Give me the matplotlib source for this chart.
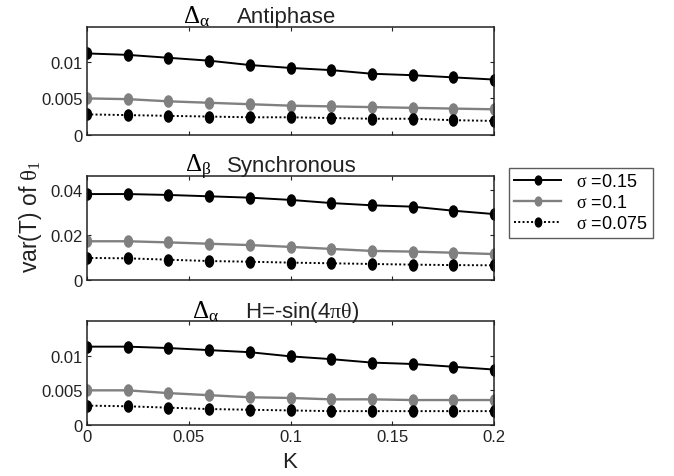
import matplotlib.pyplot as plt
from matplotlib.path import Path
from matplotlib.transforms import Affine2D

plt.rcParams['font.family'] = ['Liberation Sans', 'DejaVu Sans']
# upright serif greek, like a symbol font
plt.rcParams['mathtext.fontset'] = 'custom'
plt.rcParams['mathtext.rm'] = 'Liberation Serif'
plt.rcParams['mathtext.it'] = 'Liberation Serif'
plt.rcParams['mathtext.bf'] = 'Liberation Serif:bold'

K = [0, 0.02, 0.04, 0.06, 0.08, 0.1, 0.12, 0.14, 0.16, 0.18, 0.2]

# Delta_alpha, antiphase
anti_015 = [0.0112, 0.0110, 0.0106, 0.0102, 0.0096, 0.0092, 0.0089, 0.0084, 0.0082, 0.0079, 0.0076]
anti_010 = [0.0050, 0.0049, 0.0046, 0.0044, 0.0042, 0.0040, 0.0039, 0.0038, 0.0037, 0.0036, 0.0035]
anti_0075 = [0.0028, 0.0027, 0.0026, 0.0025, 0.0024, 0.0024, 0.0023, 0.0022, 0.0022, 0.0020, 0.0019]

# Delta_beta, synchronous
sync_015 = [0.0381, 0.0381, 0.0377, 0.0371, 0.0365, 0.0355, 0.0341, 0.0331, 0.0325, 0.0307, 0.0292]
sync_010 = [0.0171, 0.0171, 0.0166, 0.0160, 0.0154, 0.0146, 0.0137, 0.0128, 0.0125, 0.0120, 0.0114]
sync_0075 = [0.0097, 0.0095, 0.0089, 0.0083, 0.0080, 0.0076, 0.0073, 0.0070, 0.0067, 0.0065, 0.0064]

# Delta_alpha, H = -sin(4 pi theta)
sin_015 = [0.0113, 0.0113, 0.0111, 0.0108, 0.0105, 0.0099, 0.0095, 0.0090, 0.0088, 0.0084, 0.0080]
sin_010 = [0.0050, 0.0050, 0.0046, 0.0043, 0.0040, 0.0039, 0.0037, 0.0037, 0.0036, 0.0036, 0.0036]
sin_0075 = [0.0028, 0.0027, 0.0025, 0.0023, 0.0022, 0.0021, 0.0020, 0.0020, 0.0020, 0.0020, 0.0020]

sigma_labels = [r'$\sigma$ =0.15', r'$\sigma$ =0.1', r'$\sigma$ =0.075']
xticks = [0, 0.05, 0.1, 0.15, 0.2]
xticklabels = ['0', '0.05', '0.1', '0.15', '0.2']

W, H = 674, 477
fig = plt.figure(figsize=(W / 100, H / 100), dpi=100)


def box(l, t, r, b):
    return [l / W, 1 - b / H, (r - l) / W, (b - t) / H]


# slightly flattened dot, like the original markers
dot = Path.unit_circle().transformed(Affine2D().scale(0.72, 1.0))

panels = [
    (box(87, 28.3, 494, 135.7), (anti_015, anti_010, anti_0075), 0.0148,
     [0, 0.005, 0.01], ['0', '0.005', '0.01']),
    (box(87, 177.3, 494, 280.7), (sync_015, sync_010, sync_0075), 0.046,
     [0, 0.02, 0.04], ['0', '0.02', '0.04']),
    (box(87, 322, 494, 426), (sin_015, sin_010, sin_0075), 0.015,
     [0, 0.005, 0.01], ['0', '0.005', '0.01']),
]

axes = []
for pos, (s1, s2, s3), ytop, yt, ytl in panels:
    ax = fig.add_axes(pos)
    ax.plot(K, s1, color='black', lw=1.4, marker=dot, ms=8, mfc='black', mec='black')
    ax.plot(K, s2, color='#808080', lw=1.7, marker=dot, ms=8, mfc='#808080', mec='#808080')
    ax.plot(K, s3, color='black', lw=1.4, ls=(0, (1, 1.2)), marker=dot, ms=8,
            mfc='black', mec='black')
    ax.set_xlim(0, 0.2)
    ax.set_ylim(0, ytop)
    ax.set_xticks(xticks)
    ax.set_yticks(yt)
    ax.set_yticklabels(ytl)
    ax.tick_params(direction='in', top=True, right=True, length=3, width=0.8,
                   labelsize=12, colors='#222222', pad=3)
    for sp in ax.spines.values():
        sp.set_linewidth(1.1)
        sp.set_color('#222222')
    axes.append(ax)

for ax in axes[:2]:
    ax.set_xticklabels([])
axes[2].set_xticklabels(xticklabels)

# panel titles: greek part and text part placed separately
titles = [
    (183, 23, r'$\Delta_\alpha$', 237, 'Antiphase'),
    (185, 172, r'$\Delta_\beta$', 227, 'Synchronous'),
    (192, 318, r'$\Delta_\alpha$', 245, r'H=-sin(4$\pi\theta$)'),
]
for gx, y, greek, tx, text in titles:
    fig.text(gx / W, 1 - y / H, greek, fontsize=18, va='baseline', ha='left')
    fig.text(tx / W, 1 - y / H, text, fontsize=16, va='baseline', ha='left',
             color='#222222')

fig.text(30 / W, 1 - 217 / H, r'var(T) of $\theta_1$', fontsize=16.5, rotation=90,
         ha='center', va='center', color='#222222')
fig.text(290 / W, 1 - 463 / H, 'K', fontsize=16, ha='center', va='center',
         color='#222222')

leg = fig.legend(axes[0].get_lines(), sigma_labels, loc='upper left',
                 bbox_to_anchor=(509 / W, 1 - 169 / H), borderaxespad=0,
                 fontsize=13, handlelength=2.6, handletextpad=0.8,
                 labelspacing=0.22, borderpad=0.3, fancybox=False,
                 markerscale=0.8)
leg.get_frame().set_edgecolor('#333333')
leg.get_frame().set_linewidth(1.0)

fig.savefig('out.png', dpi=100)
